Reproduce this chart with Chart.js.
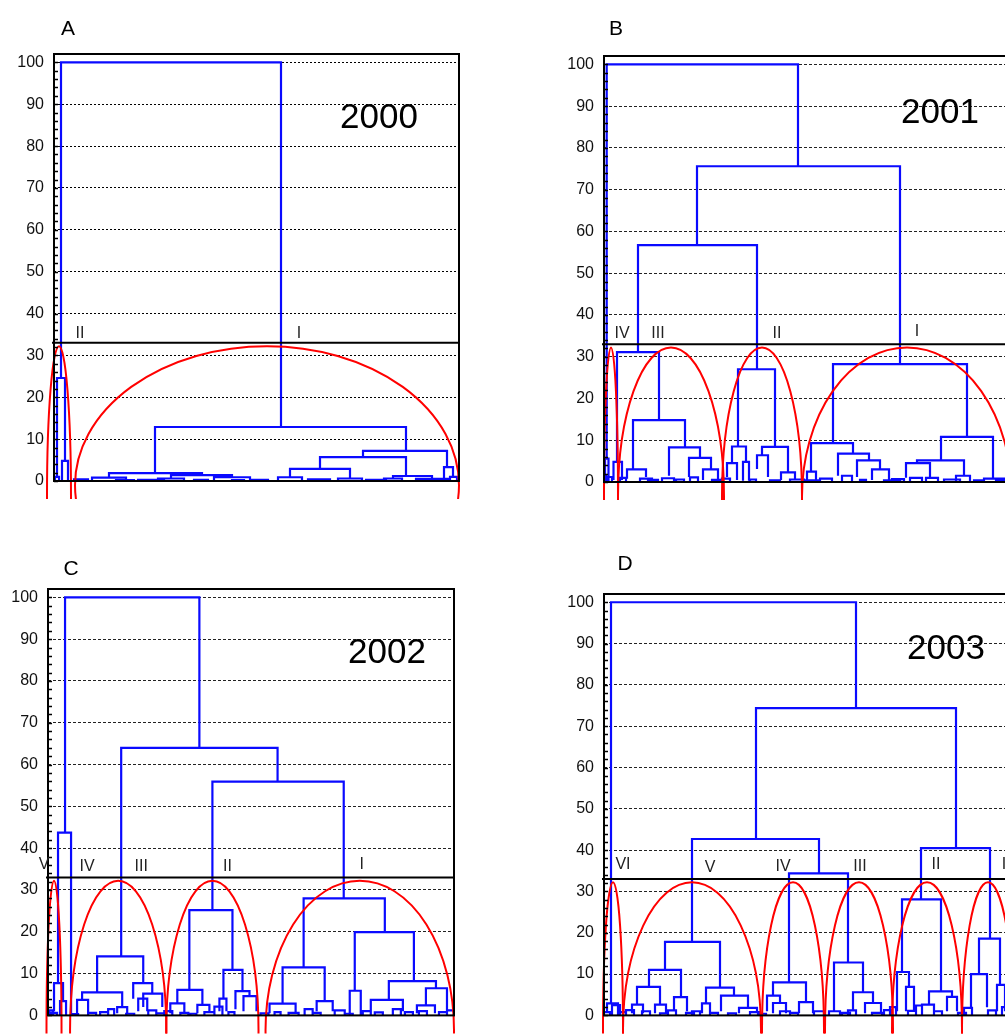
<!doctype html>
<html lang="en">
<head>
<meta charset="utf-8">
<title>Dendrograms 2000–2003</title>
<style>
  * { margin: 0; padding: 0; }
  html, body {
    width: 1005px;
    height: 1035px;
    overflow: hidden;
    background: #fff;
    font-family: "Liberation Sans", Arial, sans-serif;
  }
  .panel { position: absolute; width: 470px; }
  .panel canvas { display: block; }
  .letter, .year {
    position: absolute;
    transform: translate(-50%, -50%);
    line-height: 1;
    color: #000;
    white-space: nowrap;
  }
  .letter { font-size: 21px; }
  .year { font-size: 35px; }
</style>
</head>
<body>
<div class="panel" style="left:0;top:0;height:510px"><canvas id="chartA"></canvas></div>
<div class="panel" style="left:550px;top:0;height:510px"><canvas id="chartB"></canvas></div>
<div class="panel" style="left:0;top:540px;height:495px"><canvas id="chartC"></canvas></div>
<div class="panel" style="left:550px;top:540px;height:495px"><canvas id="chartD"></canvas></div>

<div class="letter" style="left:68px;top:27px">A</div>
<div class="letter" style="left:616px;top:27px">B</div>
<div class="letter" style="left:71px;top:567px">C</div>
<div class="letter" style="left:625px;top:562px">D</div>

<div class="year" id="yearA" style="left:379px;top:115px"></div>
<div class="year" id="yearB" style="left:940px;top:110px"></div>
<div class="year" id="yearC" style="left:387px;top:650px"></div>
<div class="year" id="yearD" style="left:946px;top:646px"></div>

<script src="https://cdn.jsdelivr.net/npm/chart.js/dist/chart.umd.min.js"></script>
<script>
// ---- data ----
const years = ['2000', '2001', '2002', '2003'];
const yTicks = [0, 10, 20, 30, 40, 50, 60, 70, 80, 90, 100];
const leafCount = 405;       // leaf positions along the x axis
const cutHeight = 33;        // similarity level where the tree is cut
const ellipseTop = 32.2;

// merges: [left leaf pos, right leaf pos, left child height, right child height, merge height]
const mergesA = [
  [7, 227, 24.6, 12.9, 100], [3, 11, 1.0, 4.8, 24.6], [8, 14, 0, 0, 4.8],
  [101, 352, 1.9, 7.2, 12.9], [55, 148, 0.8, 1.4, 1.9], [309, 393, 5.7, 3.3, 7.2],
  [266, 352, 2.9, 1.2, 5.7], [236, 296, 0.9, 0.6, 2.9], [339, 378, 0.6, 0.5, 1.2],
  [390, 399, 0, 1.0, 3.3], [117, 178, 0.6, 0.9, 1.4]
];
// low merges near the leaves: [left, right, height]
const leafPairsA = [
  [1, 5, 1.0], [38, 72, 0.8], [20, 34, 0.4], [84, 110, 0.3], [104, 130, 0.6],
  [160, 196, 0.9], [198, 214, 0.3], [224, 248, 0.9], [254, 276, 0.4], [284, 308, 0.6],
  [312, 332, 0.3], [330, 348, 0.6], [362, 394, 0.5], [396, 403, 1.0], [140, 154, 0.3],
  [62, 80, 0.2], [178, 190, 0.2]
];
const clusterNamesA = ['II', 'I'];
const clusterNamePosA = [26, 245];
const clusterNameLevelA = [35.1, 35.3];
const ellipseCenterA = [5, 213];
const ellipseHalfWidthA = [12, 192];
const ellipseBaseA = [-3.5, -1];

const mergesB = [
  [2.7, 194, 5.6, 75.6, 100], [1, 4.5, 0, 0, 5.6], [93, 296, 56.7, 28.2, 75.6],
  [34, 153, 31.1, 27, 56.7], [13, 55, 4.8, 14.8, 31.1], [9.5, 18, 0.5, 0.5, 4.8],
  [29, 81, 3, 8.3, 14.8], [23, 42, 0.8, 1.2, 3], [65, 96, 1.5, 5.8, 8.3],
  [85, 107, 1.2, 3, 5.8], [99, 114, 0.5, 0.5, 3], [134, 171, 8.5, 8.4, 27],
  [128, 142, 4.5, 4.8, 8.5], [123, 133, 1.2, 0.5, 4.5], [139, 145, 0.3, 0.3, 4.8],
  [158, 184, 6.4, 2.3, 8.4], [153, 164, 3.1, 1.2, 6.4], [177, 191, 0.5, 0.5, 2.3],
  [229, 363, 9.3, 10.8, 28.2], [207, 249, 2.5, 6.8, 9.3], [203, 212, 0.5, 0.5, 2.5],
  [234, 265, 1.5, 5.2, 6.8], [253, 276, 1.2, 3, 5.2], [268, 285, 0.5, 0.5, 3],
  [337, 389, 5.2, 0.8, 10.8], [313, 360, 4.5, 1.5, 5.2], [302, 326, 1.0, 1.0, 4.5]
];
const leafPairsB = [
  [0, 2, 1.5], [4, 8, 1.2], [16, 22, 1.0], [36, 48, 0.8], [44, 54, 0.5], [58, 70, 0.9],
  [72, 80, 0.6], [86, 94, 1.1], [108, 118, 0.5], [118, 126, 0.8], [146, 152, 0.6],
  [166, 176, 0.4], [186, 200, 0.6], [200, 214, 0.4], [216, 228, 0.8], [238, 248, 1.5],
  [256, 262, 0.5], [280, 296, 0.4], [288, 300, 0.7], [306, 318, 1.0], [322, 334, 1.0],
  [340, 356, 0.6], [352, 366, 1.5], [370, 380, 0.4], [380, 400, 0.8], [392, 405, 0.5]
];
const clusterNamesB = ['IV', 'III', 'II', 'I'];
const clusterNamePosB = [18, 54, 173, 313];
const clusterNameLevelB = [35.6, 35.6, 35.6, 36.0];
const ellipseCenterB = [7, 67, 158, 303];
const ellipseHalfWidthB = [7, 53, 40, 105];
const ellipseBaseB = [-3.5, -3.5, -3.5, -3.5];

const mergesC = [
  [17, 151, 43.7, 64, 100], [10, 23, 7.7, 0, 43.7], [6, 15, 1, 3.4, 7.7], [12, 18, 0, 0, 3.4],
  [73, 229, 14.1, 55.9, 64], [49, 95, 5.5, 7.7, 14.1], [34, 74, 3.7, 2, 5.5],
  [29, 40, 0.5, 0.5, 3.7], [69, 79, 0.5, 0.5, 2], [85, 104, 4, 5.2, 7.7],
  [90, 99, 1, 1, 4], [95, 114, 2, 2, 5.2], [164, 295, 25.2, 28, 55.9],
  [141, 184, 6.1, 10.9, 25.2], [129, 154, 2.9, 2.5, 6.1], [122, 136, 0.5, 0.5, 2.9],
  [149, 161, 0.5, 0.5, 2.5], [175, 194, 4, 5.8, 10.9], [171, 178, 1, 1, 4],
  [187, 201, 1.5, 4.6, 5.8], [195, 208, 1, 1, 4.6], [255, 336, 11.5, 19.9, 28],
  [234, 276, 2.8, 3.4, 11.5], [221, 247, 0.5, 0.5, 2.8], [268, 284, 1, 1, 3.4],
  [306, 365, 5.9, 8.2, 19.9], [301, 312, 0, 0, 5.9], [340, 387, 3.7, 6.5, 8.2],
  [322, 354, 1, 1, 3.7], [377, 398, 2.4, 1, 6.5], [368, 386, 0.5, 0.5, 2.4]
];
const leafPairsC = [
  [1, 5, 1.2], [3, 9, 0.6], [24, 30, 0.3], [40, 48, 0.6], [52, 60, 0.8], [60, 66, 1.5],
  [78, 86, 0.4], [100, 108, 1.2], [108, 118, 0.5], [116, 124, 1.0], [132, 140, 0.6],
  [142, 148, 0.4], [156, 166, 0.8], [166, 174, 2.1], [180, 186, 0.8], [212, 220, 0.5],
  [226, 232, 0.8], [240, 250, 0.6], [256, 264, 1.5], [264, 272, 0.6], [286, 296, 1.2],
  [296, 304, 0.4], [314, 322, 1.0], [326, 334, 0.7], [344, 352, 1.5], [356, 364, 0.8],
  [370, 378, 1.0], [390, 398, 0.8], [398, 405, 1.2]
];
const clusterNamesC = ['V', 'IV', 'III', 'II', 'I'];
const clusterNamePosC = [-4, 39, 93, 179, 313];
const clusterNameLevelC = [36.0, 35.6, 35.6, 35.6, 36.0];
const ellipseCenterC = [6, 70, 164, 311];
const ellipseHalfWidthC = [7.5, 48, 46, 94];
const ellipseBaseC = [-3.5, -3.5, -3.5, -3.5];

const mergesD = [
  [7, 252, 2.9, 74.4, 100], [3, 14, 1, 1, 2.9], [152, 352, 42.7, 40.5, 74.4],
  [88, 215, 17.8, 34.4, 42.7], [61, 116, 11, 6.7, 17.8], [45, 77, 6.9, 4.4, 11],
  [33, 56, 2.6, 2.6, 6.9], [28, 39, 0.5, 0.5, 2.6], [51, 62, 0.5, 0.5, 2.6],
  [70, 83, 1, 1, 4.4], [102, 130, 2.9, 4.8, 6.7], [98, 106, 0.5, 0.5, 2.9],
  [117, 144, 1, 1.8, 4.8], [135, 153, 0.5, 0.5, 1.8], [185, 244, 8, 12.8, 34.4],
  [169, 202, 4.8, 3.2, 8], [163, 176, 1, 3, 4.8], [169, 182, 0.5, 0.5, 3],
  [195, 209, 0.5, 0.5, 3.2], [230, 259, 1, 5.6, 12.8], [225, 236, 0, 0, 1],
  [249, 269, 1, 3, 5.6], [261, 277, 0.5, 0.5, 3], [317, 386, 28.1, 18.6, 40.5],
  [298, 337, 10.5, 5.8, 28.1], [293, 305, 1, 6.9, 10.5], [302, 310, 1, 1, 6.9],
  [325, 348, 2.6, 4.5, 5.8], [318, 330, 0.5, 0.5, 2.6], [343, 353, 1, 1, 4.5],
  [375, 396, 10, 7.4, 18.6], [367, 383, 2, 2, 10], [393, 401, 1, 1, 7.4]
];
const leafPairsD = [
  [0, 6, 0.8], [8, 16, 2.5], [14, 22, 0.8], [22, 30, 1.3], [38, 46, 1.0], [56, 64, 0.5],
  [64, 72, 1.2], [82, 90, 0.6], [88, 96, 1.0], [106, 114, 0.6], [124, 132, 0.5],
  [146, 156, 0.8], [154, 162, 0.4], [176, 186, 1.0], [186, 194, 0.6], [210, 220, 1.0],
  [238, 246, 0.6], [244, 252, 1.2], [268, 278, 0.6], [280, 288, 1.3], [286, 292, 2.0],
  [304, 312, 1.1], [312, 318, 2.4], [330, 338, 1.0], [354, 362, 0.6], [360, 368, 1.8],
  [384, 392, 1.2], [398, 405, 2.0]
];
const clusterNamesD = ['VI', 'V', 'IV', 'III', 'II', 'I'];
const clusterNamePosD = [19, 106, 179, 256, 332, 400];
const clusterNameLevelD = [36.6, 35.8, 36.1, 36.1, 36.5, 36.5];
const ellipseCenterD = [9, 88, 189, 255, 323, 384];
const ellipseHalfWidthD = [10, 69, 31, 34, 35, 26];
const ellipseBaseD = [-3.5, -3.5, -3.5, -3.5, -3.5, -3.5];

// ---- drawing ----
const FONT = '"Liberation Sans", Arial, sans-serif';

// every merge becomes a ∩-shaped path; null points break the line between merges
function treePoints(merges, pairs) {
  const pts = [];
  merges.forEach(([xl, xr, hl, hr, h]) => {
    pts.push({x: xl, y: hl}, {x: xl, y: h}, {x: xr, y: h}, {x: xr, y: hr}, {x: xr, y: null});
  });
  pairs.forEach(([xl, xr, h]) => {
    pts.push({x: xl, y: 0}, {x: xl, y: h}, {x: xr, y: h}, {x: xr, y: 0}, {x: xr, y: null});
  });
  return pts;
}

function dendroPlugin(p) {
  return {
    id: 'dendro',
    afterDatasetsDraw(chart) {
      const {ctx, chartArea, scales: {x, y}} = chart;
      // red rings around the clusters, running a little below the axis
      ctx.save();
      ctx.beginPath();
      ctx.rect(0, 0, chart.width, chartArea.bottom + 18);
      ctx.clip();
      ctx.strokeStyle = '#ff0000';
      ctx.lineWidth = 2;
      p.ellipseCenter.forEach((c, i) => {
        const cx = x.getPixelForValue(c);
        const rx = x.getPixelForValue(c + p.ellipseHalfWidth[i]) - cx;
        const cy = y.getPixelForValue(p.ellipseBase[i]);
        const ry = cy - y.getPixelForValue(ellipseTop);
        ctx.beginPath();
        ctx.ellipse(cx, cy, rx, ry, 0, 0, Math.PI * 2);
        ctx.stroke();
      });
      ctx.restore();
    },
    afterDraw(chart) {
      const {ctx, chartArea: a, scales: {x, y}} = chart;
      ctx.save();
      ctx.strokeStyle = '#000';
      ctx.lineWidth = 2;
      ctx.strokeRect(a.left, a.top, a.right - a.left, a.bottom - a.top);

      // minor ticks on the left axis
      ctx.lineWidth = 1.5;
      ctx.beginPath();
      for (let v = 0; v <= 100; v += 2) {
        const py = Math.round(y.getPixelForValue(v)) + 0.5;
        ctx.moveTo(a.left, py);
        ctx.lineTo(a.left + 4, py);
      }
      ctx.stroke();

      // cut level
      const cy = y.getPixelForValue(cutHeight);
      ctx.lineWidth = 2;
      ctx.beginPath();
      ctx.moveTo(a.left - 2, cy);
      ctx.lineTo(a.right, cy);
      ctx.stroke();

      // cluster numerals
      ctx.fillStyle = '#222';
      ctx.font = '16px ' + FONT;
      ctx.textAlign = 'center';
      ctx.textBaseline = 'middle';
      p.names.forEach((n, i) => {
        ctx.fillText(n, x.getPixelForValue(p.namePos[i]), y.getPixelForValue(p.nameLevel[i]));
      });
      ctx.restore();
    }
  };
}

function makeChart(id, p) {
  return new Chart(document.getElementById(id), {
    type: 'scatter',
    data: {
      datasets: [{
        data: treePoints(p.merges, p.pairs),
        showLine: true,
        spanGaps: false,
        borderColor: '#0a0aff',
        borderWidth: 2.2,
        pointRadius: 0,
        tension: 0
      }]
    },
    options: {
      responsive: true,
      maintainAspectRatio: false,
      animation: false,
      events: [],
      layout: {padding: {left: 0, top: p.padTop, right: p.padRight, bottom: p.padBottom}},
      plugins: {legend: {display: false}, tooltip: {enabled: false}},
      scales: {
        x: {type: 'linear', min: 0, max: leafCount, display: false},
        y: {
          min: 0,
          max: 102,
          afterBuildTicks: s => { s.ticks = yTicks.map(v => ({value: v})); },
          afterFit: s => { s.width = p.axisWidth; },
          ticks: {padding: 10, color: '#111', font: {family: FONT, size: 16}},
          grid: {color: p.gridColor, lineWidth: 1, drawTicks: false},
          border: {display: false, dash: p.gridDash}
        }
      }
    },
    plugins: [dendroPlugin(p)]
  });
}

['yearA', 'yearB', 'yearC', 'yearD'].forEach((id, i) => {
  document.getElementById(id).textContent = years[i];
});

makeChart('chartA', {
  merges: mergesA, pairs: leafPairsA,
  names: clusterNamesA, namePos: clusterNamePosA, nameLevel: clusterNameLevelA,
  ellipseCenter: ellipseCenterA, ellipseHalfWidth: ellipseHalfWidthA, ellipseBase: ellipseBaseA,
  gridColor: '#000', gridDash: [2, 2],
  axisWidth: 54, padTop: 54, padRight: 11, padBottom: 29
});
makeChart('chartB', {
  merges: mergesB, pairs: leafPairsB,
  names: clusterNamesB, namePos: clusterNamePosB, nameLevel: clusterNameLevelB,
  ellipseCenter: ellipseCenterB, ellipseHalfWidth: ellipseHalfWidthB, ellipseBase: ellipseBaseB,
  gridColor: '#222', gridDash: [3, 2],
  axisWidth: 54, padTop: 56, padRight: 11, padBottom: 28
});
makeChart('chartC', {
  merges: mergesC, pairs: leafPairsC,
  names: clusterNamesC, namePos: clusterNamePosC, nameLevel: clusterNameLevelC,
  ellipseCenter: ellipseCenterC, ellipseHalfWidth: ellipseHalfWidthC, ellipseBase: ellipseBaseC,
  gridColor: '#222', gridDash: [3, 2],
  axisWidth: 48, padTop: 49, padRight: 16, padBottom: 18
});
makeChart('chartD', {
  merges: mergesD, pairs: leafPairsD,
  names: clusterNamesD, namePos: clusterNamePosD, nameLevel: clusterNameLevelD,
  ellipseCenter: ellipseCenterD, ellipseHalfWidth: ellipseHalfWidthD, ellipseBase: ellipseBaseD,
  gridColor: '#222', gridDash: [3, 2],
  axisWidth: 54, padTop: 54, padRight: 11, padBottom: 15
});
</script>
</body>
</html>
